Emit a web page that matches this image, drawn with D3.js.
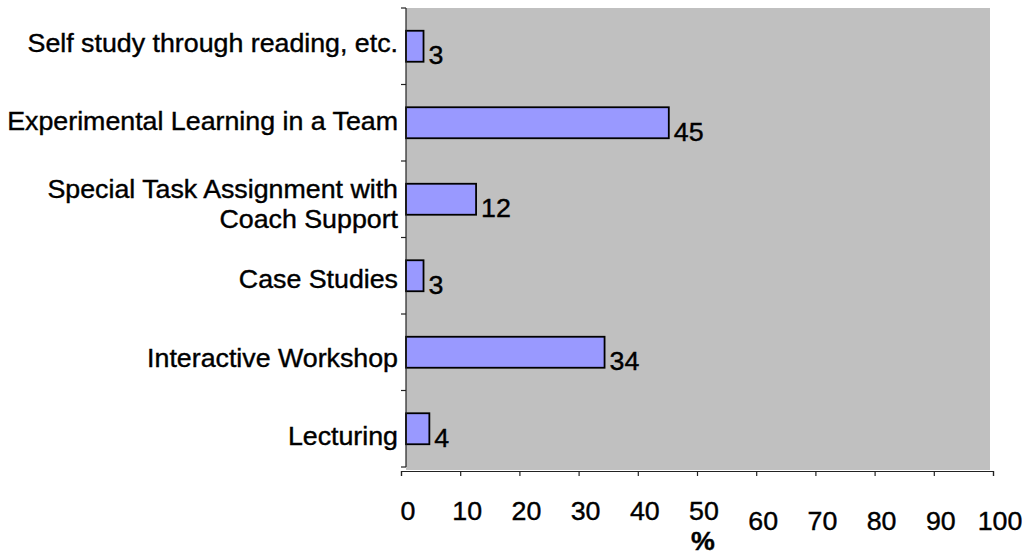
<!DOCTYPE html>
<html><head><meta charset="utf-8">
<script src="https://cdn.jsdelivr.net/npm/d3@7"></script>
<style>body{margin:0;background:#fff}text{font-family:"Liberation Sans",Arial,sans-serif;fill:#000;stroke:#000;stroke-width:0.4px}</style>
</head><body>
<svg id="c" width="1028" height="555"></svg>
<script>
const categories = ["Self study through reading, etc.", "Experimental Learning in a Team", "Special Task Assignment with|Coach Support", "Case Studies", "Interactive Workshop", "Lecturing"];
const values = [3, 45, 12, 3, 34, 4];
const xTicks = [0, 10, 20, 30, 40, 50, 60, 70, 80, 90, 100];
const xTitle = "%";

const svg = d3.select("#c");
const FS = 26, SX = 1.03;
const x = d3.scaleLinear().domain([0, 100]).range([406, 990]);
const xAx = d3.scaleLinear().domain([0, 100]).range([401, 993]);
const y = d3.scaleBand().domain(categories).range([8, 467]).paddingInner(0.595).paddingOuter(0.2975);
const gap = (y.step() - y.bandwidth()) / 2;
const labY = d3.scalePoint().domain(categories).range([y(categories[0]) + y.bandwidth()/2 + 5.5, y(categories[5]) + y.bandwidth()/2 + 16.5]);

// plot background
svg.append("rect").attr("x", x(0)).attr("y", y.range()[0]).attr("width", x(100) - x(0)).attr("height", 470 - y.range()[0]).attr("fill", "#c0c0c0");

// bars
svg.selectAll("rect.bar").data(categories).join("rect").attr("class", "bar")
  .attr("x", x(0)).attr("y", d => y(d))
  .attr("width", (d, i) => x(values[i]) - x(0)).attr("height", y.bandwidth())
  .attr("fill", "#9999ff").attr("stroke", "#000").attr("stroke-width", 1.8);

// value labels
svg.selectAll("text.val").data(categories).join("text").attr("class", "val")
  .attr("transform", (d, i) => `translate(${x(values[i]) + 5},${y(d) + y.bandwidth() + 2.5}) scale(${SX},1)`)
  .attr("font-size", FS).text((d, i) => values[i]);

// y axis line + ticks at band boundaries
svg.append("line").attr("x1", x(0)).attr("x2", x(0)).attr("y1", y.range()[0]).attr("y2", y.range()[1]).attr("stroke", "#222").attr("stroke-width", 1.2);
const bounds = categories.map(c => y(c) - gap).concat([y(categories[5]) + y.bandwidth() + gap]);
svg.selectAll("line.yt").data(bounds).join("line").attr("class", "yt")
  .attr("x1", x(0) - 5).attr("x2", x(0)).attr("y1", d => d).attr("y2", d => d).attr("stroke", "#222").attr("stroke-width", 1.2);

// category labels
categories.forEach(c => {
  const lines = c.split("|");
  const yy = labY(c);
  lines.forEach((ln, k) => {
    const off = lines.length > 1 ? (k === 0 ? -11 : 19) : 0;
    svg.append("text").attr("text-anchor", "end").attr("font-size", FS)
      .attr("transform", `translate(${x(0) - 8},${yy + off}) scale(${SX},1)`).text(ln);
  });
});

// x axis
const gx = svg.append("g").attr("transform", "translate(0,471)")
  .call(d3.axisBottom(xAx).tickValues(xTicks).tickSize(5).tickFormat(""));
gx.select(".domain").attr("stroke", "#222").attr("stroke-width", 1.2);
gx.selectAll(".tick line").attr("stroke", "#222").attr("stroke-width", 1.2);
svg.selectAll("text.xt").data(xTicks).join("text").attr("class", "xt")
  .attr("text-anchor", "middle").attr("font-size", FS)
  .attr("transform", d => `translate(${xAx(d) + 7},${d <= 50 ? 520 : 530}) scale(${SX},1)`).text(d => d);
svg.append("text").attr("text-anchor", "middle").attr("font-size", FS).attr("font-weight", "bold")
  .attr("transform", `translate(${xAx(50) + 6},550) scale(${SX},1)`).text(xTitle);
</script>
</body></html>
